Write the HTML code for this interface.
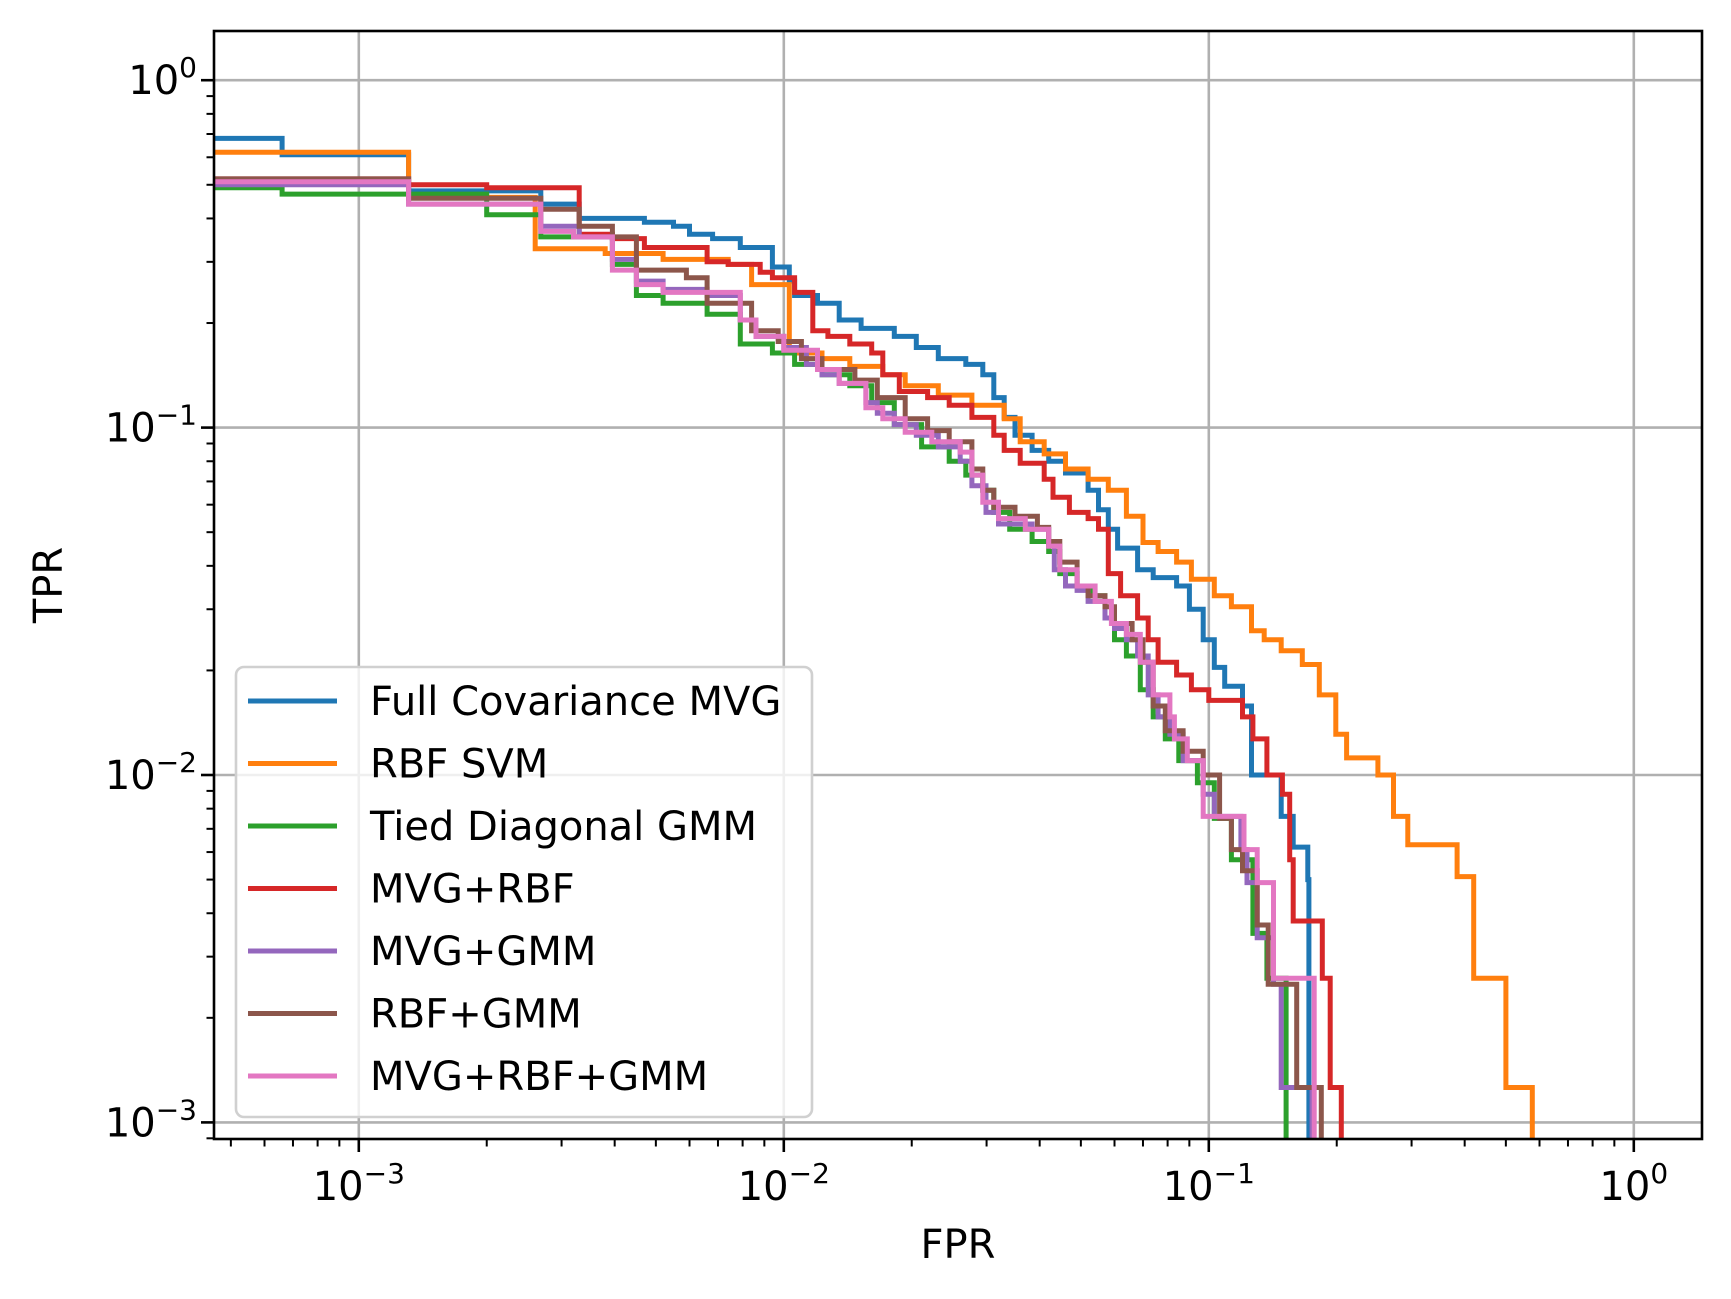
<!DOCTYPE html>
<html><head><meta charset="utf-8"><style>
html,body{margin:0;padding:0;background:#fff;}
svg{display:block;font-family:"DejaVu Sans","Liberation Sans",sans-serif;}
</style></head><body>
<svg id="chart" width="1731" height="1299" viewBox="0 0 1731 1299" xmlns="http://www.w3.org/2000/svg">
<defs><clipPath id="plotclip"><rect x="214" y="31" width="1488" height="1108"/></clipPath></defs>
<rect x="214" y="31" width="1488" height="1108" fill="#fff"/>
<g id="grid"></g>
<g id="series" clip-path="url(#plotclip)"></g>
<rect x="214" y="31" width="1488" height="1108" fill="none" stroke="#000" stroke-width="2.6"/>
<g id="ticks"></g>
<text x="958" y="1258" font-size="40" text-anchor="middle">FPR</text>
<text x="0" y="0" font-size="40" text-anchor="middle" transform="translate(62,585) rotate(-90)">TPR</text>
<g id="legend"></g>
</svg>
<script>
const seriesNames = ["Full Covariance MVG","RBF SVM","Tied Diagonal GMM","MVG+RBF","MVG+GMM","RBF+GMM","MVG+RBF+GMM"];
const seriesColors = ["#1f77b4","#ff7f0e","#2ca02c","#d62728","#9467bd","#8c564b","#e377c2"];
const fprBlue = [0.0004,6.6e-4,1.31e-3,2.68e-3,3.3e-3,4.7e-3,5.5e-3,6.0e-3,6.8e-3,7.9e-3,9.4e-3,1.03e-2,1.06e-2,1.2e-2,1.35e-2,1.52e-2,1.82e-2,2.05e-2,2.31e-2,2.68e-2,2.94e-2,3.12e-2,3.3e-2,3.5e-2,3.84e-2,4.2e-2,4.6e-2,5.2e-2,5.5e-2,5.8e-2,6.1e-2,6.8e-2,7.4e-2,8.4e-2,9.0e-2,9.7e-2,0.103,0.109,0.120,0.126,0.148,0.158,0.171,0.172];
const tprBlue = [0.68,0.61,0.48,0.44,0.40,0.39,0.38,0.36,0.35,0.33,0.29,0.264,0.24,0.228,0.204,0.193,0.183,0.170,0.158,0.152,0.142,0.122,0.107,0.095,0.086,0.080,0.074,0.066,0.058,0.051,0.045,0.039,0.037,0.035,0.030,0.0245,0.0204,0.018,0.0158,0.010,0.0076,0.0062,0.0050,0.0005];
const fprOrange = [0.0004,1.31e-3,2.6e-3,3.8e-3,5.2e-3,7.4e-3,8.4e-3,1.03e-2,1.23e-2,1.43e-2,1.71e-2,1.93e-2,2.31e-2,2.77e-2,3.3e-2,3.6e-2,4.1e-2,4.6e-2,5.2e-2,5.8e-2,6.4e-2,7.0e-2,7.6e-2,8.4e-2,9.1e-2,0.103,0.113,0.126,0.135,0.148,0.166,0.182,0.199,0.211,0.250,0.272,0.294,0.384,0.420,0.50,0.577];
const tprOrange = [0.62,0.46,0.327,0.317,0.305,0.295,0.258,0.164,0.158,0.150,0.142,0.132,0.124,0.116,0.106,0.091,0.084,0.076,0.071,0.066,0.0556,0.0467,0.044,0.041,0.0366,0.0328,0.0305,0.026,0.0245,0.0228,0.0208,0.017,0.0131,0.0112,0.010,0.0076,0.0063,0.0051,0.0026,0.00126,0.0005];
const fprGreen = [0.0004,6.6e-4,2.0e-3,2.68e-3,3.95e-3,4.5e-3,5.2e-3,6.6e-3,7.9e-3,9.4e-3,1.06e-2,1.23e-2,1.43e-2,1.61e-2,1.82e-2,2.11e-2,2.45e-2,2.68e-2,2.94e-2,3.12e-2,3.4e-2,3.84e-2,4.2e-2,4.46e-2,4.9e-2,5.3e-2,5.7e-2,6.0e-2,6.4e-2,6.9e-2,7.4e-2,7.9e-2,8.5e-2,9.4e-2,0.103,0.113,0.127,0.137,0.152];
const tprGreen = [0.49,0.47,0.41,0.354,0.295,0.24,0.228,0.212,0.174,0.164,0.152,0.142,0.132,0.118,0.102,0.088,0.080,0.073,0.066,0.057,0.051,0.047,0.044,0.038,0.035,0.0328,0.0283,0.0245,0.022,0.0176,0.0147,0.0127,0.011,0.0095,0.0075,0.0057,0.0035,0.0026,0.0005];
const fprRed = [0.0004,1.31e-3,2.0e-3,3.3e-3,3.95e-3,4.7e-3,6.6e-3,7.4e-3,8.8e-3,9.4e-3,1.06e-2,1.17e-2,1.27e-2,1.43e-2,1.61e-2,1.71e-2,1.87e-2,2.18e-2,2.45e-2,2.77e-2,3.12e-2,3.3e-2,3.6e-2,4.1e-2,4.3e-2,4.7e-2,5.2e-2,5.5e-2,5.8e-2,6.2e-2,6.8e-2,7.2e-2,7.6e-2,8.4e-2,9.1e-2,0.100,0.120,0.127,0.137,0.149,0.155,0.158,0.185,0.193,0.205];
const tprRed = [0.52,0.50,0.49,0.36,0.35,0.33,0.30,0.295,0.28,0.27,0.245,0.19,0.183,0.174,0.164,0.142,0.127,0.122,0.116,0.107,0.095,0.086,0.079,0.071,0.063,0.057,0.0547,0.051,0.038,0.0328,0.0283,0.0245,0.0211,0.0194,0.0176,0.0164,0.0147,0.0127,0.010,0.0088,0.0057,0.0038,0.0026,0.00126,0.0005];
const fprPurple = [0.0004,1.31e-3,2.68e-3,3.3e-3,3.95e-3,4.5e-3,5.2e-3,6.6e-3,7.9e-3,8.6e-3,1.0e-2,1.13e-2,1.23e-2,1.35e-2,1.56e-2,1.66e-2,1.82e-2,2.05e-2,2.31e-2,2.6e-2,2.77e-2,2.99e-2,3.2e-2,3.84e-2,4.2e-2,4.33e-2,4.6e-2,4.9e-2,5.2e-2,5.7e-2,6.0e-2,6.4e-2,6.8e-2,7.2e-2,7.6e-2,8.1e-2,8.7e-2,9.7e-2,0.103,0.119,0.123,0.130,0.142,0.148,0.175];
const tprPurple = [0.50,0.44,0.38,0.354,0.305,0.264,0.25,0.24,0.204,0.183,0.170,0.152,0.142,0.134,0.118,0.110,0.102,0.095,0.088,0.080,0.068,0.057,0.0528,0.051,0.0456,0.039,0.035,0.034,0.0316,0.0283,0.0264,0.0245,0.022,0.017,0.0147,0.0131,0.011,0.0088,0.0076,0.0061,0.0049,0.0034,0.0025,0.00126,0.0005];
const fprBrown = [0.0004,1.31e-3,2.68e-3,3.3e-3,3.95e-3,4.5e-3,5.9e-3,6.6e-3,8.4e-3,9.7e-3,1.1e-2,1.23e-2,1.47e-2,1.66e-2,1.93e-2,2.18e-2,2.45e-2,2.77e-2,2.94e-2,3.12e-2,3.5e-2,3.95e-2,4.2e-2,4.46e-2,4.9e-2,5.2e-2,5.7e-2,6.0e-2,6.6e-2,7.0e-2,7.4e-2,7.9e-2,8.7e-2,9.7e-2,0.106,0.113,0.120,0.130,0.138,0.161,0.184];
const tprBrown = [0.52,0.457,0.425,0.38,0.354,0.284,0.27,0.228,0.19,0.177,0.158,0.147,0.137,0.122,0.106,0.098,0.091,0.076,0.066,0.059,0.0556,0.0516,0.047,0.041,0.035,0.0328,0.0305,0.0273,0.0245,0.0211,0.0158,0.0134,0.0117,0.010,0.0075,0.0061,0.0053,0.0037,0.0025,0.00126,0.0005];
const fprPink = [0.0004,1.31e-3,2.68e-3,3.2e-3,3.95e-3,4.5e-3,5.2e-3,7.9e-3,8.6e-3,1.0e-2,1.2e-2,1.35e-2,1.56e-2,1.71e-2,1.93e-2,2.23e-2,2.6e-2,2.77e-2,2.94e-2,3.2e-2,3.7e-2,4.2e-2,4.46e-2,4.9e-2,5.4e-2,5.9e-2,6.4e-2,6.9e-2,7.4e-2,8.1e-2,8.3e-2,8.9e-2,9.7e-2,0.121,0.130,0.142,0.177];
const tprPink = [0.51,0.44,0.367,0.354,0.284,0.258,0.245,0.204,0.183,0.167,0.147,0.134,0.114,0.106,0.097,0.091,0.085,0.073,0.061,0.0547,0.051,0.0456,0.039,0.035,0.0316,0.0273,0.0254,0.0211,0.017,0.0147,0.0127,0.011,0.0076,0.0061,0.0049,0.0026,0.0005];
const allFpr = [fprBlue,fprOrange,fprGreen,fprRed,fprPurple,fprBrown,fprPink];
const allTpr = [tprBlue,tprOrange,tprGreen,tprRed,tprPurple,tprBrown,tprPink];
const xTickExps = [-3,-2,-1,0];
const yTickExps = [0,-1,-2,-3];

const NS = "http://www.w3.org/2000/svg";
const X = v => 783.8 + (Math.log10(v) + 2) * 425;
const Y = v => 775 - (Math.log10(v) + 2) * 347.4;
const L = 214, R = 1702, T = 31, B = 1139;
function mk(tag, attrs, parent){const e=document.createElementNS(NS,tag);for(const k in attrs)e.setAttribute(k,attrs[k]);parent.appendChild(e);return e;}
const grid=document.getElementById('grid'), ticks=document.getElementById('ticks'), ser=document.getElementById('series'), leg=document.getElementById('legend');

xTickExps.forEach(e=>{
  const x=X(Math.pow(10,e));
  const g=mk('line',{x1:x,x2:x,y1:T,y2:B,stroke:'#b0b0b0','stroke-width':2.6},grid);
  
  
  const t=mk('line',{x1:x,x2:x,y1:B,y2:B+13,stroke:'#000','stroke-width':2.6},ticks);
  
  
  const tx=mk('text',{x:x,y:1200,'font-size':40,'text-anchor':'middle'},ticks);
  
  
  tx.innerHTML='10<tspan dy="-17" font-size="28">'+(e<0?'\u2212'+(-e):e)+'</tspan>';
});
yTickExps.forEach(e=>{
  const y=Y(Math.pow(10,e));
  const g=mk('line',{x1:L,x2:R,y1:y,y2:y,stroke:'#b0b0b0','stroke-width':2.6},grid);
  
  
  const t=mk('line',{x1:L-13,x2:L,y1:y,y2:y,stroke:'#000','stroke-width':2.6},ticks);
  
  
  const tx=mk('text',{x:197,y:y+14,'font-size':40,'text-anchor':'end'},ticks);
  
  
  tx.innerHTML='10<tspan dy="-17" font-size="28">'+(e<0?'\u2212'+(-e):e)+'</tspan>';
});
for(let e=-4;e<=0;e++){for(let m=2;m<=9;m++){
  const v=m*Math.pow(10,e);
  const x=X(v);
  if(x>L&&x<R){const t=mk('line',{x1:x,x2:x,y1:B,y2:B+7.5,stroke:'#000','stroke-width':2},ticks);
    
    }
  const y=Y(v);
  if(y>T&&y<B){const t=mk('line',{x1:L-7.5,x2:L,y1:y,y2:y,stroke:'#000','stroke-width':2},ticks);
    
    }
}}
allFpr.forEach((fp,i)=>{
  const tp=allTpr[i];
  let d='M'+X(fp[0]).toFixed(1)+','+Y(tp[0]).toFixed(1);
  for(let k=1;k<fp.length;k++){
    d+=' L'+X(fp[k]).toFixed(1)+','+Y(tp[k-1]).toFixed(1)+' L'+X(fp[k]).toFixed(1)+','+Y(tp[k]).toFixed(1);
  }
  const p=mk('path',{d:d,fill:'none',stroke:seriesColors[i],'stroke-width':5,'stroke-linejoin':'miter'},ser);
  
  
});
const box=mk('rect',{x:236,y:667,width:576,height:450,rx:8,fill:'rgba(255,255,255,0.8)',stroke:'#d0d0d0','stroke-width':2.6},leg);


seriesNames.forEach((n,i)=>{
  const y=701+i*62.5;
  const g=mk('g',{},leg);
  
  
  mk('line',{x1:248,x2:337,y1:y,y2:y,stroke:seriesColors[i],'stroke-width':5},g);
  const t=mk('text',{x:370,y:y+14,'font-size':40},g);
  t.textContent=n;
});
</script>
</body></html>
